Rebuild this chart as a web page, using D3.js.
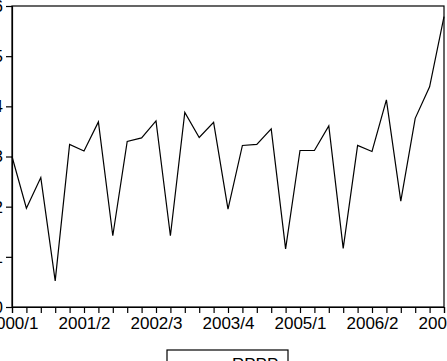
<!DOCTYPE html>
<html><head><meta charset="utf-8">
<script src="https://cdn.jsdelivr.net/npm/d3@7"></script>
<style>body{margin:0;background:#fff;overflow:hidden}svg{display:block}</style>
</head><body>
<svg id="c" width="447" height="361"></svg>
<script>
const quarters = ["2000/1","2000/2","2000/3","2000/4","2001/1","2001/2","2001/3","2001/4","2002/1","2002/2","2002/3","2002/4","2003/1","2003/2","2003/3","2003/4","2004/1","2004/2","2004/3","2004/4","2005/1","2005/2","2005/3","2005/4","2006/1","2006/2","2006/3","2006/4","2007/1","2007/2","2007/3"];
const rppp = [3.0,1.97,2.58,0.52,3.24,3.11,3.69,1.42,3.30,3.37,3.71,1.42,3.88,3.38,3.68,1.95,3.22,3.24,3.55,1.16,3.12,3.12,3.61,1.17,3.22,3.10,4.13,2.11,3.76,4.39,5.79];
const yTicks = [0,1,2,3,4,5,6];
const xLabels = ["2000/1","2001/2","2002/3","2003/4","2005/1","2006/2","2007/3"];
const seriesName = "RPPP";

const svg = d3.select("#c");
const L = 12, R = 444, T = 6, B = 307;
const x = d3.scalePoint().domain(quarters).range([L, R]);
const y = d3.scaleLinear().domain([0, 6]).range([B, T]);
const font = "'Liberation Sans', Arial, sans-serif";

svg.append("rect").attr("x", L).attr("y", T).attr("width", R - L).attr("height", B - T)
  .attr("fill", "none").attr("stroke", "#000").attr("stroke-width", 1.2);

const ya = svg.append("g").attr("transform", `translate(${L},0)`)
  .call(d3.axisLeft(y).tickValues(yTicks).tickSize(6).tickPadding(3).tickFormat(d3.format("d")));
const xa = svg.append("g").attr("transform", `translate(0,${B})`)
  .call(d3.axisBottom(x).tickSize(6).tickPadding(4).tickFormat(d => xLabels.includes(d) ? d : ""));
[ya, xa].forEach(g => {
  g.select(".domain").attr("stroke", "#000").attr("stroke-width", 1.2);
  g.selectAll(".tick line").attr("stroke", "#000").attr("stroke-width", 1.2);
  g.selectAll("text").attr("fill", "#000").attr("font-family", font).attr("font-size", 17);
});

svg.append("path").datum(rppp)
  .attr("fill", "none").attr("stroke", "#000").attr("stroke-width", 1.2).attr("stroke-linejoin", "miter")
  .attr("d", d3.line().x((d, i) => x(quarters[i])).y(d => y(d)));

const lg = svg.append("g");
lg.append("rect").attr("x", 167).attr("y", 350).attr("width", 121).attr("height", 30)
  .attr("fill", "#fff").attr("stroke", "#000").attr("stroke-width", 1.2);
lg.append("line").attr("x1", 185).attr("x2", 225).attr("y1", 364).attr("y2", 364)
  .attr("stroke", "#000").attr("stroke-width", 1.2);
lg.append("text").attr("x", 232).attr("y", 370).attr("font-family", font).attr("font-size", 17)
  .attr("fill", "#000").text(seriesName);
</script>
</body></html>
